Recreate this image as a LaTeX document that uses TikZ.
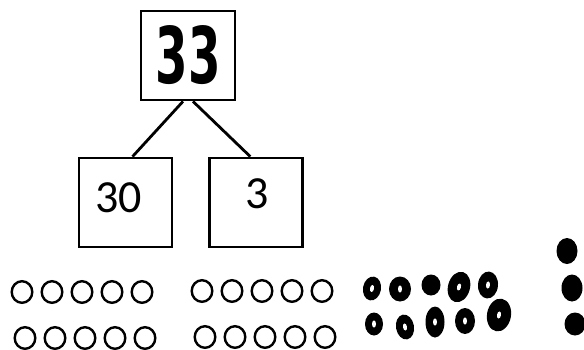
\documentclass[tikz,border=0pt]{standalone}
\usepackage{fontspec}
\setmainfont{Carlito}
\newfontfamily\chunky{DejaVu Sans}
\usepackage{graphicx}
\usepackage{tikz}
\usetikzlibrary{positioning}

\tikzset{
  numbox/.style={draw, line width=2.8pt, minimum width=93pt, minimum height=89pt, inner sep=0pt},
  digits/.style={font=\fontsize{46}{50}\selectfont},
  counter/.style={line width=2.4pt},
  ring/.style={fill=black}
}

\begin{document}
\begin{tikzpicture}[x=1pt, y=-1pt, node distance=35pt]
  \useasboundingbox (0,0) rectangle (584,349);
  \node[numbox, minimum width=94pt] (whole) at (188,55.5)
    {\resizebox{65pt}{58pt}{\chunky\bfseries 33}};
  \node[numbox, label={[digits, xshift=-7pt, yshift=5pt]center:30}] (tens) at (125.5,202.5) {};
  \node[numbox, right=of tens, label={[digits, xshift=1pt, yshift=9pt]center:3}] (ones) {};
  \draw[line width=2.8pt] ([xshift=-5pt]whole.south) -- ([xshift=7pt]tens.north);
  \draw[line width=2.8pt] ([xshift=5pt]whole.south) -- ([xshift=-6pt]ones.north);

  % ten and ten: open counters
  \foreach \i in {0,...,4} {
    \draw[counter] (22+30*\i,292) ellipse (10.3 and 10.8);
    \draw[counter] (202+30*\i,291) ellipse (10.3 and 10.8);
    \draw[counter] (25+30*\i,338) ellipse (10.3 and 10.8);
    \draw[counter] (205+30*\i,337) ellipse (10.3 and 10.8);
  }

  % ten as drawn rings
  \foreach \x/\y/\rx/\ry/\a in {372/288.5/9/12/-10, 400/289/11/12.5/0, 459/287/11/15.5/-15,
      488/285/10/13.5/-5, 374/324/9/11.5/0, 405/327/9/12.5/10, 435/322/9.5/15.5/0,
      465/321/10/13/0, 499/315/12/16.5/-10} {
    \fill[ring, rotate around={\a:(\x,\y)}] (\x,\y) ellipse (\rx pt and \ry pt);
    \fill[white, rotate around={\a:(\x,\y)}] (\x,\y) ellipse (2pt and 3.6pt);
  }
  \fill[ring] (431,285) ellipse (9.5 and 10.5);

  % three ones
  \foreach \x/\y/\ry in {567/251/13, 572/288/13.5, 575/324/11.5}
    \fill[ring] (\x,\y) ellipse (10.5pt and \ry pt);
\end{tikzpicture}
\end{document}
